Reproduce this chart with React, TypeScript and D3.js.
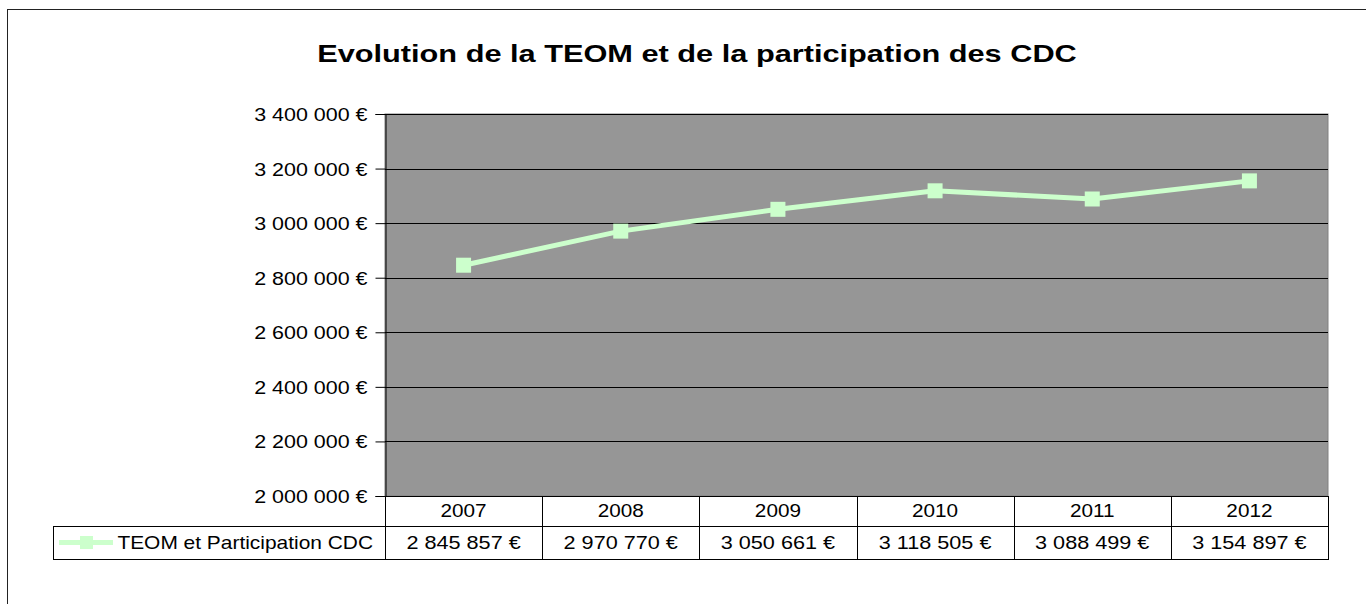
import { useEffect, useRef } from 'react';
import * as d3 from 'd3';

const years = ['2007', '2008', '2009', '2010', '2011', '2012'];
const teomValues = [2845857, 2970770, 3050661, 3118505, 3088499, 3154897];
const yTicks = [2000000, 2200000, 2400000, 2600000, 2800000, 3000000, 3200000, 3400000];
const seriesName = 'TEOM et Participation CDC';
const title = 'Evolution de la TEOM et de la participation des CDC';

const euro = d3
  .formatLocale({ decimal: ',', thousands: '\u00a0', grouping: [3], currency: ['', '\u00a0€'] })
  .format('$,.0f');

// the source renders its text a bit wider than Liberation Sans, so stretch it
function stretch(sel: d3.Selection<any, any, any, any>, k: number) {
  sel.each(function () {
    const node = this as SVGTextElement;
    const w = node.getComputedTextLength();
    d3.select(node).attr('textLength', w * k).attr('lengthAdjust', 'spacingAndGlyphs');
  });
}

export default function App() {
  const ref = useRef<SVGSVGElement>(null);

  useEffect(() => {
    if (!ref.current) return;
    const svg = d3.select(ref.current);
    svg.selectAll('*').remove();

    const font = '"Liberation Sans", Arial, sans-serif';
    const plot = { left: 385, right: 1328, top: 114, bottom: 496 };
    const rowH = [30, 33];
    const legendLeft = 53;
    const lineColor = '#ccffcc';

    const x = d3.scaleBand().domain(years).range([plot.left, plot.right]);
    const y = d3.scaleLinear().domain([2000000, 3400000]).range([plot.bottom, plot.top]);

    // chart frame
    svg.append('rect').attr('x', 7.5).attr('y', 9.5).attr('width', 1400).attr('height', 700)
      .attr('fill', '#fff').attr('stroke', '#222');

    const t = svg.append('text').attr('x', 697).attr('y', 62).attr('text-anchor', 'middle')
      .attr('font-family', font).attr('font-weight', 'bold').attr('font-size', 24).text(title);
    stretch(t, 1.28);

    // plot area
    svg.append('rect').attr('x', plot.left).attr('y', plot.top)
      .attr('width', plot.right - plot.left).attr('height', plot.bottom - plot.top)
      .attr('fill', '#969696').attr('stroke', '#808080');

    const grid = svg.append('g');
    grid.selectAll('line').data(yTicks.slice(1)).join('line')
      .attr('x1', plot.left).attr('x2', plot.right)
      .attr('y1', (d) => Math.round(y(d)) + 0.5).attr('y2', (d) => Math.round(y(d)) + 0.5)
      .attr('stroke', '#000');

    // y axis
    const axis = svg.append('g').attr('transform', `translate(${plot.left + 0.5},0)`)
      .call(d3.axisLeft(y).tickValues(yTicks).tickSize(10).tickPadding(8).tickFormat((d) => euro(d as number)));
    axis.select('.domain').attr('stroke', '#000');
    axis.selectAll('.tick line').attr('stroke', '#000');
    const tickText = axis.selectAll('.tick text').attr('font-family', font).attr('font-size', 18.5).attr('fill', '#000')
      .attr('dy', '0.35em');
    stretch(tickText, 1.16);

    // data table
    const tTop = plot.bottom;
    const r1 = tTop + rowH[0];
    const r2 = r1 + rowH[1];
    const tbl = svg.append('g').attr('stroke', '#000').attr('fill', 'none');
    tbl.append('line').attr('x1', plot.left).attr('x2', plot.right).attr('y1', tTop + 0.5).attr('y2', tTop + 0.5);
    tbl.append('line').attr('x1', legendLeft).attr('x2', plot.right).attr('y1', r1 + 0.5).attr('y2', r1 + 0.5);
    tbl.append('line').attr('x1', legendLeft).attr('x2', plot.right).attr('y1', r2 + 0.5).attr('y2', r2 + 0.5);
    tbl.append('line').attr('x1', legendLeft + 0.5).attr('x2', legendLeft + 0.5).attr('y1', r1).attr('y2', r2 + 1);
    tbl.selectAll('line.col').data([...years.map((d) => x(d) ?? 0), plot.right]).join('line')
      .attr('class', 'col')
      .attr('x1', (d) => Math.round(d) + 0.5).attr('x2', (d) => Math.round(d) + 0.5)
      .attr('y1', tTop).attr('y2', r2 + 1);

    const cx = (d: string) => (x(d) ?? 0) + x.bandwidth() / 2;
    const yearText = svg.append('g').selectAll('text').data(years).join('text')
      .attr('x', cx).attr('y', tTop + rowH[0] / 2).attr('dy', '0.35em').attr('text-anchor', 'middle')
      .attr('font-family', font).attr('font-size', 18.5).text((d) => d);
    stretch(yearText, 1.12);
    const valText = svg.append('g').selectAll('text').data(teomValues).join('text')
      .attr('x', (_, i) => cx(years[i])).attr('y', r1 + rowH[1] / 2).attr('dy', '0.35em').attr('text-anchor', 'middle')
      .attr('font-family', font).attr('font-size', 18.5).text((d) => euro(d));
    stretch(valText, 1.17);

    // legend key
    const ly = r1 + rowH[1] / 2;
    svg.append('line').attr('x1', 59).attr('x2', 113).attr('y1', ly).attr('y2', ly)
      .attr('stroke', lineColor).attr('stroke-width', 5);
    svg.append('rect').attr('x', 80).attr('y', ly - 6.5).attr('width', 13).attr('height', 13).attr('fill', lineColor);
    const legText = svg.append('text').attr('x', 373).attr('y', ly).attr('dy', '0.35em').attr('text-anchor', 'end')
      .attr('font-family', font).attr('font-size', 18.5).text(seriesName);
    stretch(legText, 1.13);

    // series
    const pts = teomValues.map((v, i) => [cx(years[i]), y(v)] as [number, number]);
    svg.append('path').datum(pts).attr('d', d3.line()).attr('fill', 'none')
      .attr('stroke', lineColor).attr('stroke-width', 5);
    svg.append('g').selectAll('rect').data(pts).join('rect')
      .attr('x', (d) => d[0] - 7.5).attr('y', (d) => d[1] - 7.5).attr('width', 15).attr('height', 15)
      .attr('fill', lineColor);
  }, []);

  return (
    <svg ref={ref} width={1366} height={604}
      style={{ position: 'absolute', left: 0, top: 0, display: 'block', overflow: 'hidden', background: '#fff' }} />
  );
}
